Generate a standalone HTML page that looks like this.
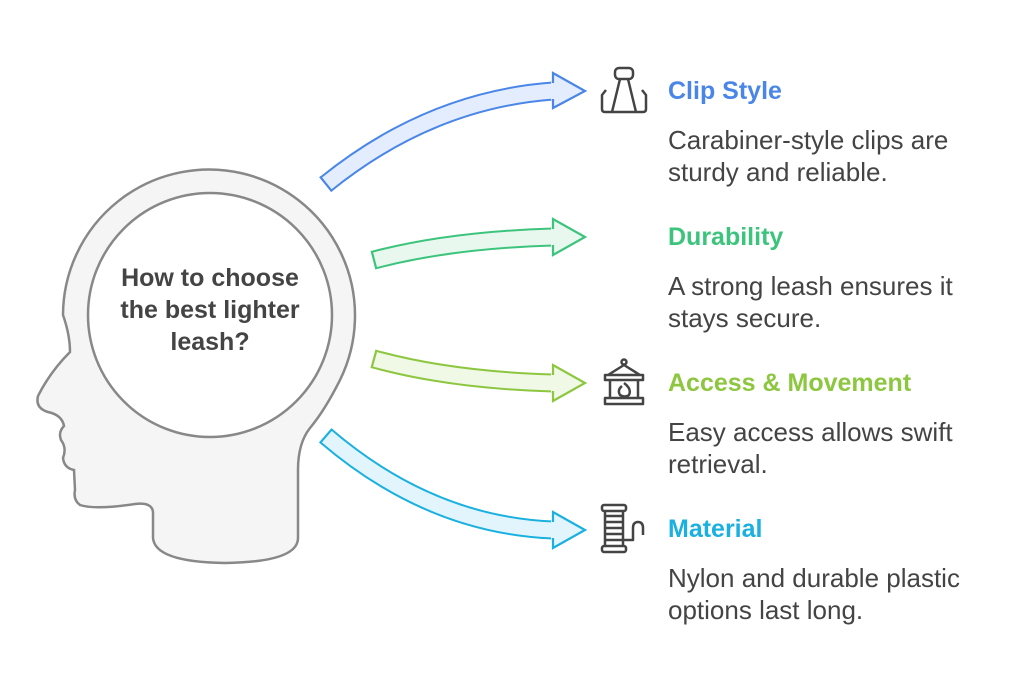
<!DOCTYPE html>
<html><head><meta charset="utf-8"><style>
body{margin:0;background:#fff;width:1024px;height:693px;overflow:hidden;position:relative;font-family:"Liberation Sans",Arial,sans-serif}
.t{position:absolute;left:668px;font-weight:bold;font-size:25px;line-height:30px}
.b{position:absolute;left:668px;font-size:26px;line-height:32px;color:#444}
.c{position:absolute;left:95px;top:262px;width:230px;text-align:center;font-weight:bold;font-size:25px;line-height:32px;color:#444;white-space:nowrap}
</style></head><body>
<svg width="1024" height="693" style="position:absolute;left:0;top:0">
<path d="M63,315 A146,146 0 1 1 340,380 Q325,410 310,428 Q298,443 298,470 L298,538 Q298,562 225,563 Q155,562 153,538 L153,512 Q152,502 135,504 Q95,510 80,505 Q73,500 75,490 L74,470 Q64,468 63,458 Q67,448 61,440 Q58,432 64,426 Q62,415 48,412 Q35,408 38,396 Q50,372 70,352 Q70,335 63,315 Z" fill="#f5f5f5" stroke="#888" stroke-width="2.5"/>
<circle cx="210" cy="315" r="122" fill="#fff" stroke="#888" stroke-width="2.5"/>
<g fill="none" stroke-linecap="butt">
<path d="M326,184 Q430,100 553,91" stroke="#4a86e8" stroke-width="19"/>
<path d="M326,184 Q430,100 553,91" stroke="#e3edfd" stroke-width="15"/>
<path d="M374,260 Q450,240 553,237" stroke="#3cc47c" stroke-width="19"/>
<path d="M374,260 Q450,240 553,237" stroke="#e8f8ef" stroke-width="15"/>
<path d="M374,359 Q450,380 553,383" stroke="#8dc63f" stroke-width="19"/>
<path d="M374,359 Q450,380 553,383" stroke="#f0f8e6" stroke-width="15"/>
<path d="M326,436 Q430,525 553,530" stroke="#1ab0e0" stroke-width="19"/>
<path d="M326,436 Q430,525 553,530" stroke="#e3f5fc" stroke-width="15"/>
<g stroke-width="2.2">
<line x1="332" y1="191.4" x2="320" y2="176.6" stroke="#4a86e8"/>
<line x1="376.4" y1="269.2" x2="371.6" y2="250.8" stroke="#3cc47c"/>
<line x1="371.5" y1="368.2" x2="376.5" y2="349.8" stroke="#8dc63f"/>
<line x1="319.8" y1="443.2" x2="332.2" y2="428.8" stroke="#1ab0e0"/>
</g>
</g>
<g stroke-width="2.2" stroke-linejoin="miter">
<polygon points="551,83 553,73 585,91 553,108 551,99" fill="#e3edfd"/><polyline points="553,83 553,73 585,91 553,108 553,99" fill="none" stroke="#4a86e8"/>
<polygon points="551,229 553,219 585,237 553,255 551,245" fill="#e8f8ef"/><polyline points="553,229 553,219 585,237 553,255 553,245" fill="none" stroke="#3cc47c"/>
<polygon points="551,375 553,365 585,383 553,401 551,391" fill="#f0f8e6"/><polyline points="553,375 553,365 585,383 553,401 553,391" fill="none" stroke="#8dc63f"/>
<polygon points="551,522 553,512 585,530 553,548 551,538" fill="#e3f5fc"/><polyline points="553,522 553,512 585,530 553,548 553,538" fill="none" stroke="#1ab0e0"/>
</g>
<g fill="none" stroke="#444" stroke-width="2.5" stroke-linejoin="round">
<rect x="615" y="68" width="18" height="11" rx="4"/>
<path d="M620,79 L612,112 M628,79 L636,112 M606,90 L602,95 L602,109 Q602,112 605,112 L643,112 Q646,112 646,109 L646,95 L642,90"/>
<circle cx="624" cy="362" r="2.5"/>
<path d="M624,365 L608,375 L640,375 Z M605,375 L643,375 L643,380 L605,380 Z M610,380 L610,398 M638,380 L638,398 M605,398 L643,398 L643,404 L605,404 Z M624,383 Q632,389 629,395 Q625,398 620,395 Q617,390 622,386"/>
<rect x="602" y="505" width="24" height="6" rx="2"/><rect x="602" y="546" width="24" height="6" rx="2"/>
<path d="M605,511 L605,546 M623,511 L623,546 M605,516 L623,516 M605,522 L623,522 M605,528 L623,528 M605,534 L623,534 M605,540 L623,540 M623,540 L633,540 L633,528 Q633,522 638,522 Q643,522 643,528 L643,535"/>
</g>
</svg>
<div class="c">How to choose<br>the best lighter<br>leash?</div>
<div class="t" style="top:76px;color:#4a86e8">Clip Style</div>
<div class="b" style="top:124px">Carabiner-style clips are<br>sturdy and reliable.</div>
<div class="t" style="top:222px;color:#3cc47c">Durability</div>
<div class="b" style="top:270px">A strong leash ensures it<br>stays secure.</div>
<div class="t" style="top:368px;color:#8dc63f">Access &amp; Movement</div>
<div class="b" style="top:416px">Easy access allows swift<br>retrieval.</div>
<div class="t" style="top:514px;color:#1ab0e0">Material</div>
<div class="b" style="top:562px">Nylon and durable plastic<br>options last long.</div>
</body></html>
